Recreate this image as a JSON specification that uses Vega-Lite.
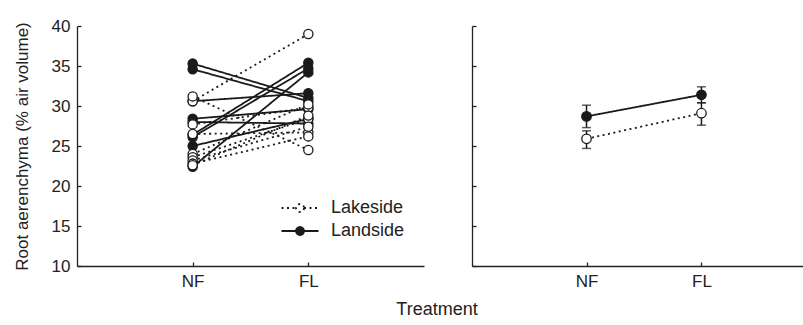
{
  "$schema": "https://vega.github.io/schema/vega-lite/v6.json",
  "padding": {"left": 13, "top": 17, "right": 0, "bottom": 5},
  "background": "white",
  "config": {
    "view": {"stroke": null},
    "font": "Liberation Sans",
    "axis": {
      "domainColor": "#222", "domainWidth": 1.3, "tickColor": "#222", "tickWidth": 1.3,
      "tickSize": -4, "labelPadding": 11, "labelFontSize": 17, "labelColor": "#222",
      "labelFont": "Liberation Sans", "titleFont": "Liberation Sans", "titleFontSize": 17,
      "titleFontWeight": "normal", "titleColor": "#222", "grid": false
    }
  },
  "title": {"text": "Treatment", "orient": "bottom", "anchor": "middle", "fontSize": 18, "fontWeight": "normal", "color": "#222", "font": "Liberation Sans", "dx": 29, "offset": 12},
  "resolve": {"legend": {"fill": "independent", "strokeDash": "independent"}},
  "datasets": {
    "plants": [
      {"plant": "L1", "site": "Landside", "treatment": "NF", "value": 35.3},
      {"plant": "L1", "site": "Landside", "treatment": "FL", "value": 31.0},
      {"plant": "L2", "site": "Landside", "treatment": "NF", "value": 34.6},
      {"plant": "L2", "site": "Landside", "treatment": "FL", "value": 30.6},
      {"plant": "L3", "site": "Landside", "treatment": "NF", "value": 30.6},
      {"plant": "L3", "site": "Landside", "treatment": "FL", "value": 31.6},
      {"plant": "L4", "site": "Landside", "treatment": "NF", "value": 28.4},
      {"plant": "L4", "site": "Landside", "treatment": "FL", "value": 29.6},
      {"plant": "L5", "site": "Landside", "treatment": "NF", "value": 28.0},
      {"plant": "L5", "site": "Landside", "treatment": "FL", "value": 27.8},
      {"plant": "L6", "site": "Landside", "treatment": "NF", "value": 26.4},
      {"plant": "L6", "site": "Landside", "treatment": "FL", "value": 35.4},
      {"plant": "L7", "site": "Landside", "treatment": "NF", "value": 26.1},
      {"plant": "L7", "site": "Landside", "treatment": "FL", "value": 34.7},
      {"plant": "L8", "site": "Landside", "treatment": "NF", "value": 25.0},
      {"plant": "L8", "site": "Landside", "treatment": "FL", "value": 28.4},
      {"plant": "L9", "site": "Landside", "treatment": "NF", "value": 22.4},
      {"plant": "L9", "site": "Landside", "treatment": "FL", "value": 34.2},
      {"plant": "K1", "site": "Lakeside", "treatment": "NF", "value": 30.6},
      {"plant": "K1", "site": "Lakeside", "treatment": "FL", "value": 39.0},
      {"plant": "K2", "site": "Lakeside", "treatment": "NF", "value": 31.2},
      {"plant": "K2", "site": "Lakeside", "treatment": "FL", "value": 24.5},
      {"plant": "K3", "site": "Lakeside", "treatment": "NF", "value": 27.7},
      {"plant": "K3", "site": "Lakeside", "treatment": "FL", "value": 29.8},
      {"plant": "K4", "site": "Lakeside", "treatment": "NF", "value": 26.5},
      {"plant": "K4", "site": "Lakeside", "treatment": "FL", "value": 26.7},
      {"plant": "K5", "site": "Lakeside", "treatment": "NF", "value": 24.0},
      {"plant": "K5", "site": "Lakeside", "treatment": "FL", "value": 30.2},
      {"plant": "K6", "site": "Lakeside", "treatment": "NF", "value": 23.6},
      {"plant": "K6", "site": "Lakeside", "treatment": "FL", "value": 28.4},
      {"plant": "K7", "site": "Lakeside", "treatment": "NF", "value": 23.2},
      {"plant": "K7", "site": "Lakeside", "treatment": "FL", "value": 27.4},
      {"plant": "K8", "site": "Lakeside", "treatment": "NF", "value": 22.8},
      {"plant": "K8", "site": "Lakeside", "treatment": "FL", "value": 26.2},
      {"plant": "K9", "site": "Lakeside", "treatment": "NF", "value": 22.6},
      {"plant": "K9", "site": "Lakeside", "treatment": "FL", "value": 28.8}
    ],
    "means": [
      {"site": "Landside", "treatment": "NF", "mean": 28.7, "lo": 27.3, "hi": 30.1},
      {"site": "Landside", "treatment": "FL", "mean": 31.4, "lo": 30.4, "hi": 32.4},
      {"site": "Lakeside", "treatment": "NF", "mean": 25.9, "lo": 24.7, "hi": 26.9},
      {"site": "Lakeside", "treatment": "FL", "mean": 29.1, "lo": 27.6, "hi": 30.4}
    ]
  },
  "spacing": 47,
  "hconcat": [
    {
      "width": 347,
      "height": 240,
      "data": {"name": "plants"},
      "resolve": {"legend": {"fill": "shared", "strokeDash": "shared"}},
      "encoding": {
        "x": {"field": "treatment", "type": "ordinal", "sort": ["NF", "FL"], "scale": {"type": "point", "padding": 1, "align": 0.5}, "axis": {"title": null, "labelAngle": 0}},
        "y": {"field": "value", "type": "quantitative", "scale": {"domain": [10, 40]}, "axis": {"values": [10, 15, 20, 25, 30, 35, 40], "title": "Root aerenchyma (% air volume)", "titlePadding": 20}}
      },
      "layer": [
        {
          "mark": {"type": "line", "color": "#1a1a1a", "strokeWidth": 1.8},
          "encoding": {
            "detail": {"field": "plant"},
            "strokeDash": {"field": "site", "type": "nominal", "scale": {"domain": ["Lakeside", "Landside"], "range": [[2, 3.5], [1, 0]]},
              "legend": {"title": null, "orient": "none", "legendX": 212, "legendY": 171, "labelFontSize": 18, "labelColor": "#222", "symbolType": "M-1.85,0H-0.4M0.4,0H1.85M0.4,0A0.4,0.4,0,1,1,-0.4,0A0.4,0.4,0,1,1,0.4,0Z", "symbolSize": 400, "symbolStrokeWidth": 1.8, "symbolStrokeColor": "#1a1a1a", "rowPadding": 3, "labelOffset": 20}}
          }
        },
        {
          "mark": {"type": "point", "shape": "circle", "filled": true, "size": 85, "stroke": "#1a1a1a", "strokeWidth": 1.3, "opacity": 1},
          "encoding": {
            "fill": {"field": "site", "type": "nominal", "scale": {"domain": ["Lakeside", "Landside"], "range": ["white", "#1a1a1a"]},
              "legend": {"title": null, "orient": "none", "legendX": 212, "legendY": 171, "labelFontSize": 18, "labelColor": "#222", "symbolType": "M-1.85,0H-0.4M0.4,0H1.85M0.4,0A0.4,0.4,0,1,1,-0.4,0A0.4,0.4,0,1,1,0.4,0Z", "symbolSize": 400, "symbolStrokeWidth": 1.8, "symbolStrokeColor": "#1a1a1a", "rowPadding": 3, "labelOffset": 20}},
            "order": {"field": "site", "sort": "descending"}
          }
        }
      ]
    },
    {
      "width": 331,
      "height": 240,
      "data": {"name": "means"},
      "encoding": {
        "x": {"field": "treatment", "type": "ordinal", "sort": ["NF", "FL"], "scale": {"type": "point", "padding": 0.94, "align": 0.53}, "axis": {"title": null, "labelAngle": 0}},
        "y": {"field": "mean", "type": "quantitative", "scale": {"domain": [10, 40]}, "axis": {"values": [10, 15, 20, 25, 30, 35, 40], "title": null, "labels": false}}
      },
      "layer": [
        {
          "mark": {"type": "line", "color": "#1a1a1a", "strokeWidth": 1.8},
          "encoding": {
            "detail": {"field": "site"},
            "strokeDash": {"field": "site", "type": "nominal", "scale": {"domain": ["Lakeside", "Landside"], "range": [[2, 3.5], [1, 0]]}, "legend": null}
          }
        },
        {
          "mark": {"type": "rule", "color": "#1a1a1a", "strokeWidth": 1.5},
          "encoding": {"y": {"field": "lo", "type": "quantitative"}, "y2": {"field": "hi"}}
        },
        {
          "mark": {"type": "tick", "color": "#1a1a1a", "size": 9, "thickness": 1.5, "orient": "horizontal"},
          "encoding": {"y": {"field": "lo", "type": "quantitative"}}
        },
        {
          "mark": {"type": "tick", "color": "#1a1a1a", "size": 9, "thickness": 1.5, "orient": "horizontal"},
          "encoding": {"y": {"field": "hi", "type": "quantitative"}}
        },
        {
          "mark": {"type": "point", "shape": "circle", "filled": true, "size": 90, "stroke": "#1a1a1a", "strokeWidth": 1.3, "opacity": 1},
          "encoding": {
            "fill": {"field": "site", "type": "nominal", "scale": {"domain": ["Lakeside", "Landside"], "range": ["white", "#1a1a1a"]}, "legend": null}
          }
        }
      ]
    }
  ]
}
